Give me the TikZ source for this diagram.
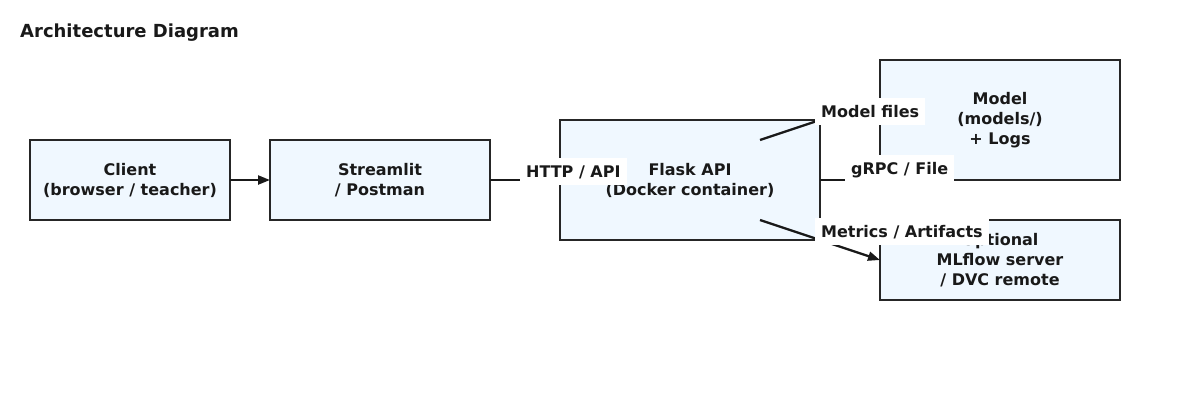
\documentclass[tikz,border=0pt]{standalone}
\usepackage{fontspec}
\setmainfont{DejaVu Sans}
\usetikzlibrary{arrows.meta}
\definecolor{boxfill}{HTML}{F0F8FF}

\begin{document}
\begin{tikzpicture}[x=1pt,y=-1pt,
	box/.style={draw=black!85,line width=1.8pt,fill=boxfill,outer sep=0pt,align=center,text=black!90,font=\fontsize{16}{20}\selectfont\bfseries},
	flow/.style={draw=black!90,line width=2.3pt,-{Triangle[length=12pt,width=9pt]}},
	lbl/.style={fill=white,anchor=base west,inner xsep=6pt,inner ysep=7.5pt,text height=12pt,text depth=0pt,xshift=-6pt,yshift=3pt,text=black!90,font=\fontsize{16}{20}\selectfont\bfseries}]
	\useasboundingbox (0,0) rectangle (1200,400);

	\node[anchor=base west,inner sep=0pt,text=black!90,font=\fontsize{18}{22}\selectfont\bfseries] (title) at (20,37) {Architecture Diagram};

	\node[box,minimum width=200pt,minimum height=80pt] (client) at (130,180) {Client\\(browser / teacher)};
	\node[box,minimum width=220pt,minimum height=80pt] (streamlit) at (380,180) {Streamlit\\/ Postman};
	\node[box,minimum width=260pt,minimum height=120pt] (flask) at (690,180) {Flask API\\(Docker container)};
	\node[box,minimum width=240pt,minimum height=120pt] (model) at (1000,120) {Model\\(models/)\\+ Logs};
	\node[box,minimum width=240pt,minimum height=80pt] (mlflow) at (1000,260) {Optional\\MLflow server\\/ DVC remote};

	\coordinate (modelsrc) at (760,140);
	\coordinate (modeldst) at (880,100);
	\coordinate (metricsrc) at (760,220);

	\draw[flow] (client) -- (streamlit);
	\draw[flow] (streamlit) -- node[lbl] {HTTP / API} (flask);
	\draw[flow] (modelsrc) -- node[lbl] {Model files} (modeldst);
	\draw[flow] (flask) -- node[lbl,yshift=3pt,text depth=4pt] {gRPC / File} (model.south west);
	\draw[flow] (metricsrc) -- node[lbl] {Metrics / Artifacts} (mlflow.west);
\end{tikzpicture}
\end{document}
